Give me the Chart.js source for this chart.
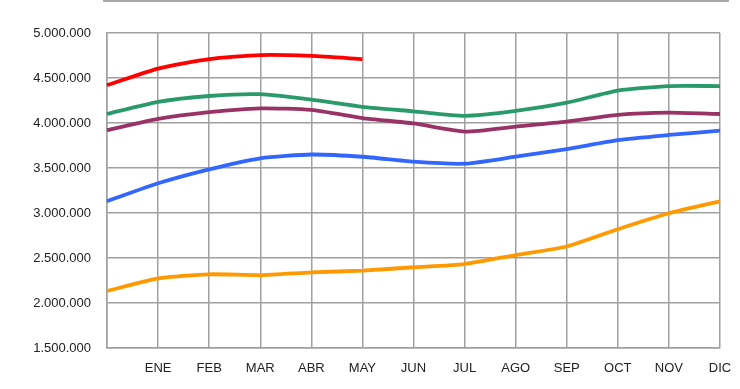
<!DOCTYPE html>
<html>
<head>
<meta charset="utf-8">
<script src="https://cdn.jsdelivr.net/npm/chart.js@4"></script>
<style>
  html, body { margin: 0; padding: 0; background: #fff; }
  #wrap { position: relative; width: 740px; height: 389px; }
  #topline { position: absolute; left: 103px; top: 0; width: 626px; height: 2px; background: #a8a8a8; }
  canvas { position: absolute; left: 0; top: 0; }
</style>
</head>
<body>
<div id="wrap">
  <div id="topline"></div>
  <canvas id="c" width="740" height="389"></canvas>
</div>
<script>
const categories = ['', 'ENE', 'FEB', 'MAR', 'ABR', 'MAY', 'JUN', 'JUL', 'AGO', 'SEP', 'OCT', 'NOV', 'DIC'];
const seriesRed    = [4420000, 4605000, 4710000, 4755000, 4745000, 4710000];
const seriesGreen  = [4100000, 4235000, 4300000, 4320000, 4260000, 4180000, 4130000, 4080000, 4135000, 4226000, 4360000, 4410000, 4410000];
const seriesPurple = [3920000, 4045000, 4120000, 4163000, 4145000, 4055000, 3995000, 3905000, 3960000, 4015000, 4090000, 4115000, 4100000];
const seriesBlue   = [3130000, 3330000, 3485000, 3608000, 3650000, 3625000, 3570000, 3548000, 3626000, 3710000, 3810000, 3867000, 3915000];
const seriesOrange = [2133000, 2274000, 2319000, 2310000, 2340000, 2360000, 2397000, 2433000, 2533000, 2628000, 2820000, 2997000, 3130000];
const yTicks = { min: 1500000, max: 5000000, step: 500000 };

function fmt(v) {
  return String(Math.round(v)).replace(/\B(?=(\d{3})+(?!\d))/g, '.');
}

const mk = (data, color) => ({
  data, borderColor: color, backgroundColor: color,
  borderWidth: 3.8, pointRadius: 0, tension: 0.2, fill: false
});

new Chart(document.getElementById('c'), {
  type: 'line',
  data: {
    labels: categories,
    datasets: [
      mk(seriesRed, '#ff0000'),
      mk(seriesGreen, '#2a9a6c'),
      mk(seriesPurple, '#993366'),
      mk(seriesBlue, '#3366ff'),
      mk(seriesOrange, '#ff9900')
    ]
  },
  options: {
    responsive: false,
    animation: false,
    layout: { padding: { top: 33, right: 20, left: 0, bottom: 0 } },
    plugins: { legend: { display: false }, tooltip: { enabled: false } },
    scales: {
      x: {
        offset: false,
        grid: { color: '#a0a0a0', lineWidth: 1.5, drawTicks: false },
        border: { color: '#a0a0a0', width: 1.5 },
        ticks: { color: '#222', font: { family: 'Liberation Sans', size: 13 }, padding: 13, maxRotation: 0, autoSkip: false },
        afterFit: s => { s.height = 41; s.paddingRight = 0; s.paddingLeft = 0; }
      },
      y: {
        min: yTicks.min, max: yTicks.max,
        grid: { color: '#a0a0a0', lineWidth: 1.5, drawTicks: false },
        border: { color: '#a0a0a0', width: 1.5 },
        ticks: { stepSize: yTicks.step, color: '#222', font: { family: 'Liberation Sans', size: 13 }, padding: 16, callback: v => fmt(v) },
        afterFit: s => { s.width = 107; }
      }
    }
  }
});
</script>
</body>
</html>
